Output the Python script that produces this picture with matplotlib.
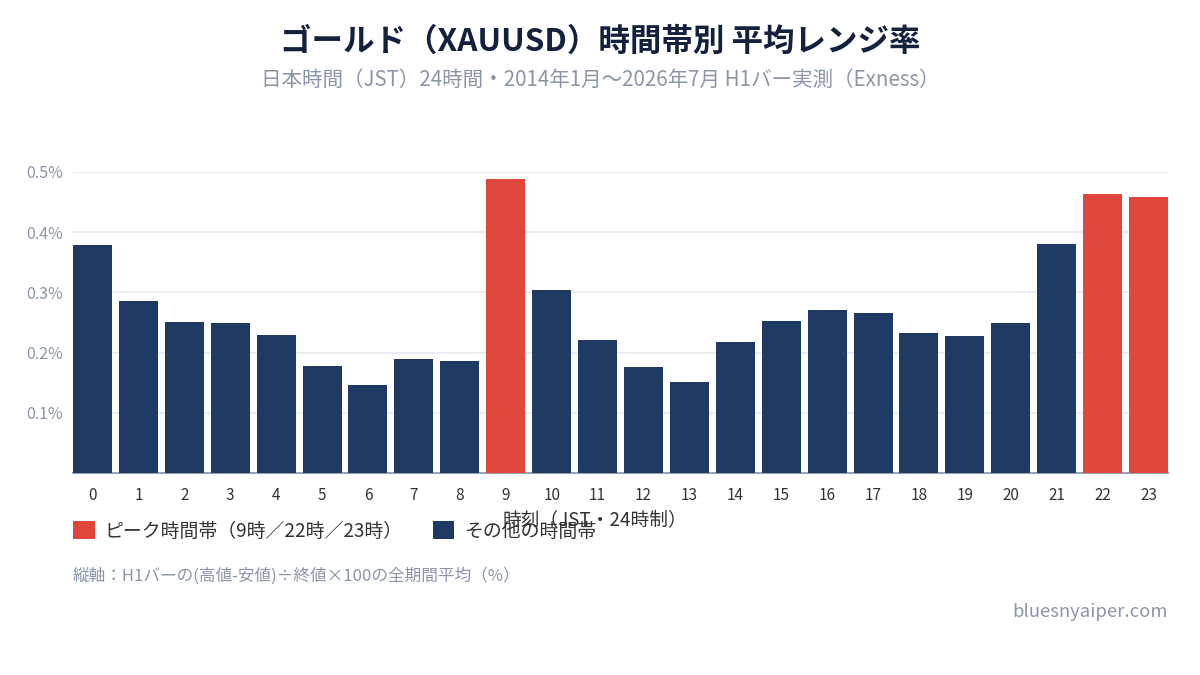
import matplotlib
matplotlib.use("Agg")
from matplotlib import pyplot as plt
from matplotlib.patches import Patch
from matplotlib.ticker import FixedLocator, FuncFormatter

plt.rcParams['font.family'] = ['Noto Sans CJK JP', 'DejaVu Sans']

NAVY = "#1f3a63"
RED = "#e0473c"
GRAY = "#8a96a8"

hours = list(range(24))
range_pct = [0.379, 0.286, 0.251, 0.249, 0.229, 0.178, 0.146, 0.189, 0.186, 0.488,
             0.304, 0.221, 0.176, 0.151, 0.217, 0.253, 0.271, 0.266, 0.233, 0.227,
             0.250, 0.381, 0.463, 0.458]
peak_hours = [9, 22, 23]
y_ticks = [0.1, 0.2, 0.3, 0.4, 0.5]

title = "ゴールド（XAUUSD）時間帯別 平均レンジ率"
subtitle = "日本時間（JST）24時間・2014年1月〜2026年7月 H1バー実測（Exness）"
x_label = "時刻（JST・24時制）"
legend_labels = ["ピーク時間帯（9時／22時／23時）", "その他の時間帯"]
note = "縦軸：H1バーの(高値-安値)÷終値×100の全期間平均（%）"
credit = "bluesnyaiper.com"

BAR_W = 0.85

fig = plt.figure(figsize=(12, 6.75), dpi=100)
ax = fig.add_axes([73 / 1200, 1 - 473 / 675, 1095 / 1200, 301 / 675])

colors = [RED if h in peak_hours else NAVY for h in hours]
ax.bar(hours, range_pct, width=BAR_W, color=colors, zorder=3)

ax.set_xlim(-BAR_W / 2, 23 + BAR_W / 2)
ax.set_ylim(0, 0.5)
ax.set_xticks(hours)
ax.set_xticklabels([str(h) for h in hours])
ax.yaxis.set_major_locator(FixedLocator(y_ticks))
ax.yaxis.set_major_formatter(FuncFormatter(lambda v, p: f"{v:.1f}%"))
ax.tick_params(axis="y", length=0, pad=7, labelsize=11.5, labelcolor=GRAY)
ax.tick_params(axis="x", length=0, pad=10, labelsize=11, labelcolor="#333333")
ax.grid(axis="y", color="#e6e9ef", linewidth=1.2, zorder=0)
ax.set_axisbelow(True)
for side in ["left", "right", "top"]:
    ax.spines[side].set_visible(False)
ax.spines["bottom"].set_color("#9aa3b0")
ax.spines["bottom"].set_linewidth(1.5)

fig.text(0.5, 1 - 42 / 675, title, ha="center", va="center", fontsize=22.7,
         fontweight="bold", color="#14213d")
fig.text(0.5, 1 - 80 / 675, subtitle, ha="center", va="center", fontsize=14.8,
         color=GRAY)
fig.text(595 / 1200, 1 - 520 / 675, x_label, ha="center", va="center",
         fontsize=13.5, color="#333333")

handles = [Patch(facecolor=RED), Patch(facecolor=NAVY)]
fig.legend(handles, legend_labels, loc="center left",
           bbox_to_anchor=(56 / 1200, 1 - 531 / 675), ncol=2, frameon=False,
           fontsize=13.6, handlelength=1.15, handleheight=1.15, handletextpad=0.5,
           columnspacing=1.6, labelcolor="#333333")

fig.text(73 / 1200, 1 - 576 / 675, note, ha="left", va="center", fontsize=12,
         color=GRAY)
fig.text(1168 / 1200, 1 - 612 / 675, credit, ha="right", va="center",
         fontsize=13.3, color=GRAY)

fig.savefig("out.png", dpi=100)
